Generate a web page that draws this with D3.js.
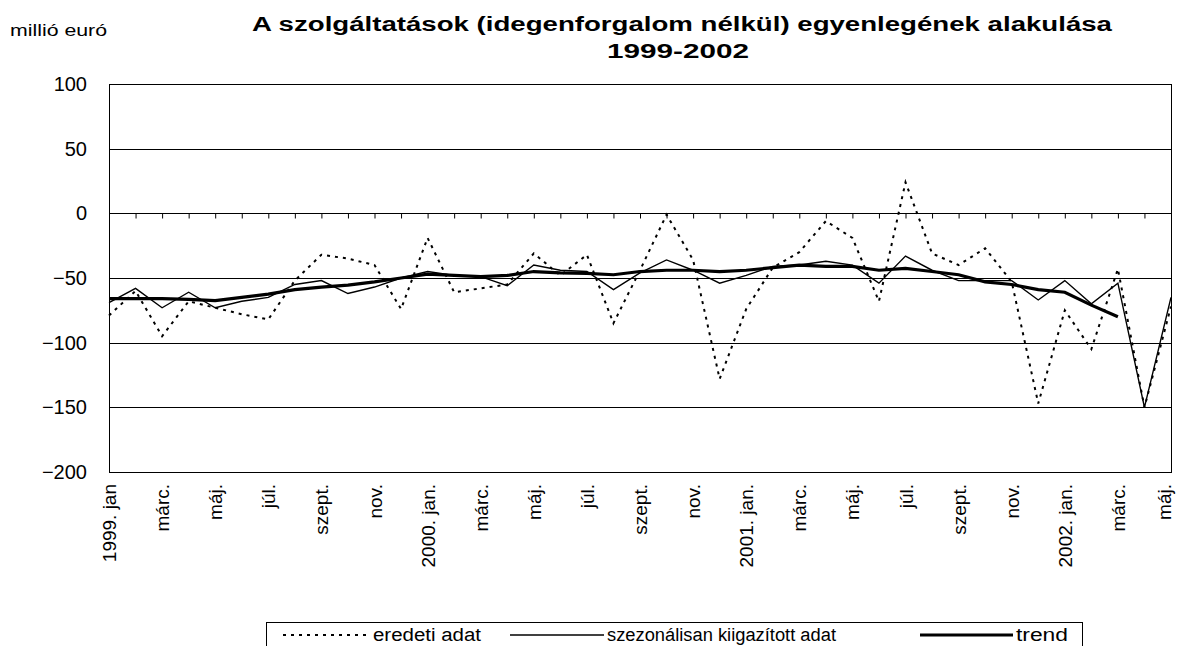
<!DOCTYPE html>
<html>
<head>
<meta charset="utf-8">
<script src="https://cdn.jsdelivr.net/npm/d3@7"></script>
<style>
  body { margin: 0; background: #fff; }
  svg { display: block; font-family: "Liberation Sans", Arial, sans-serif; }
</style>
</head>
<body>
<div id="chart"></div>
<script>
// months 1999 jan .. 2002 máj
const months = [
  "1999. jan", "febr.", "márc.", "ápr.", "máj.", "jún.", "júl.", "aug.", "szept.", "okt.", "nov.", "dec.",
  "2000. jan.", "febr.", "márc.", "ápr.", "máj.", "jún.", "júl.", "aug.", "szept.", "okt.", "nov.", "dec.",
  "2001. jan.", "febr.", "márc.", "ápr.", "máj.", "jún.", "júl.", "aug.", "szept.", "okt.", "nov.", "dec.",
  "2002. jan.", "febr.", "márc.", "ápr.", "máj."
];

const eredeti = [
  -79, -60, -95, -68, -73, -78, -82, -52, -32, -35, -40, -74,
  -19, -61, -58, -55, -31, -48, -32, -85, -44, -1, -36, -128,
  -74, -42, -30, -6, -19, -68, 24, -31, -40, -27, -53, -147,
  -75, -105, -43, -150, -72
];

const szezonalis = [
  -69, -58, -73, -61, -73, -68, -65, -55, -52, -62, -57, -50,
  -45, -48, -49, -56, -40, -44, -45, -59, -46, -36, -44, -54,
  -48, -41, -40, -37, -40, -54, -33, -44, -52, -52, -52, -67,
  -52, -70, -54, -150, -65
];

const trend = [
  -66, -66, -66, -66.5, -67.5, -65, -62.5, -59, -57, -55.5, -53, -50,
  -47, -48, -49, -48, -45, -46, -46.5, -47.5, -45, -44, -44, -45,
  -44, -42, -40, -41, -41, -44, -42.5, -45, -47.5, -53, -55, -59,
  -61, -71, -80, null, null
];

const yTicks = [100, 50, 0, -50, -100, -150, -200];

const width = 1179, height = 646;
const plot = { left: 109, right: 1171, top: 84, bottom: 472 };

const svg = d3.select("#chart").append("svg")
  .attr("width", width)
  .attr("height", height);

svg.append("rect").attr("width", width).attr("height", height).attr("fill", "#fff");

const x = d3.scalePoint()
  .domain(d3.range(months.length))
  .range([plot.left, plot.right]);

const y = d3.scaleLinear()
  .domain([-200, 100])
  .range([plot.bottom, plot.top]);

// horizontal gridlines
svg.append("g")
  .selectAll("line")
  .data(yTicks)
  .enter()
  .append("line")
  .attr("x1", plot.left)
  .attr("x2", plot.right)
  .attr("y1", d => Math.round(y(d)) + 0.5)
  .attr("y2", d => Math.round(y(d)) + 0.5)
  .attr("stroke", "#000")
  .attr("stroke-width", 1);

// plot border
svg.append("rect")
  .attr("x", plot.left + 0.5)
  .attr("y", Math.round(y(100)) + 0.5)
  .attr("width", plot.right - plot.left)
  .attr("height", Math.round(y(-200)) - Math.round(y(100)))
  .attr("fill", "none")
  .attr("stroke", "#000");

// y axis labels
const yAxis = svg.append("g")
  .attr("transform", `translate(${plot.left},0)`)
  .call(d3.axisLeft(y).tickValues(yTicks).tickSize(0).tickPadding(22));
yAxis.select(".domain").remove();
yAxis.selectAll("text")
  .attr("font-size", 20)
  .attr("font-family", "Liberation Sans, Arial, sans-serif")
  .attr("fill", "#000");

// category axis crossing at 0, with tick marks
const xAxis = svg.append("g")
  .attr("transform", `translate(0,${Math.round(y(0)) + 0.5})`)
  .call(d3.axisBottom(x).tickSize(5).tickFormat(""));
xAxis.select(".domain").remove();
xAxis.selectAll("line").attr("stroke", "#000");

// month labels along the bottom, every second month
svg.append("g")
  .selectAll("text")
  .data(months.map((m, i) => ({ m, i })).filter(d => d.i % 2 === 0))
  .enter()
  .append("text")
  .attr("transform", d => `translate(${Math.min(x(d.i) + 7, width - 8)},484) rotate(-90)`)
  .attr("text-anchor", "end")
  .attr("font-size", 19)
  .attr("fill", "#000")
  .text(d => d.m);

const line = d3.line()
  .defined(d => d != null)
  .x((d, i) => x(i))
  .y(d => y(d));

svg.append("path")
  .datum(eredeti)
  .attr("d", line)
  .attr("fill", "none")
  .attr("stroke", "#000")
  .attr("stroke-width", 2)
  .attr("stroke-dasharray", "3,5");

svg.append("path")
  .datum(szezonalis)
  .attr("d", line)
  .attr("fill", "none")
  .attr("stroke", "#000")
  .attr("stroke-width", 1.4);

svg.append("path")
  .datum(trend)
  .attr("d", line)
  .attr("fill", "none")
  .attr("stroke", "#000")
  .attr("stroke-width", 3.2);

// titles (the original text is drawn wide, so stretch it to the same span)
svg.append("text")
  .attr("x", 682).attr("y", 31)
  .attr("text-anchor", "middle")
  .attr("font-size", 20)
  .attr("font-weight", "bold")
  .attr("textLength", 860)
  .attr("lengthAdjust", "spacingAndGlyphs")
  .text("A szolgáltatások (idegenforgalom nélkül) egyenlegének alakulása");

svg.append("text")
  .attr("x", 678).attr("y", 58)
  .attr("text-anchor", "middle")
  .attr("font-size", 20)
  .attr("font-weight", "bold")
  .attr("textLength", 142)
  .attr("lengthAdjust", "spacingAndGlyphs")
  .text("1999-2002");

svg.append("text")
  .attr("x", 10).attr("y", 36)
  .attr("font-size", 16)
  .attr("textLength", 97)
  .attr("lengthAdjust", "spacingAndGlyphs")
  .text("millió euró");

// legend
const legend = svg.append("g");
legend.append("rect")
  .attr("x", 266.5).attr("y", 622.5)
  .attr("width", 816).attr("height", 40)
  .attr("fill", "#fff")
  .attr("stroke", "#000");

const legendItems = [
  { name: "eredeti adat", x1: 283, x2: 370, w: 2, dash: "3,5", len: 108 },
  { name: "szezonálisan kiigazított adat", x1: 510, x2: 604, w: 1.4, dash: null, len: 229 },
  { name: "trend", x1: 920, x2: 1013, w: 3.2, dash: null, len: 52 }
];

legendItems.forEach(it => {
  legend.append("line")
    .attr("x1", it.x1).attr("x2", it.x2)
    .attr("y1", 635).attr("y2", 635)
    .attr("stroke", "#000")
    .attr("stroke-width", it.w)
    .attr("stroke-dasharray", it.dash);
  legend.append("text")
    .attr("x", it.x2 + 3).attr("y", 641)
    .attr("font-size", 18)
    .attr("textLength", it.len)
    .attr("lengthAdjust", "spacingAndGlyphs")
    .text(it.name);
});
</script>
</body>
</html>
